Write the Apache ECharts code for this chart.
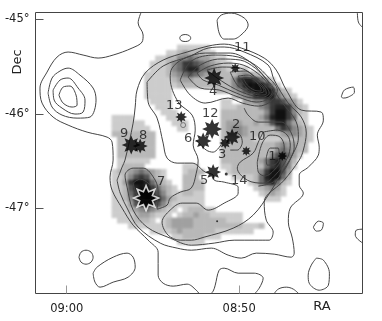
<!DOCTYPE html>
<html><head><meta charset="utf-8">
<style>html,body{margin:0;padding:0;background:#fff}#c{width:382px;height:321px}</style>
<script src="https://cdn.jsdelivr.net/npm/echarts@6/dist/echarts.min.js"></script>
</head><body><div id="c"></div>
<script>
// RA in minutes of time, Dec in degrees
const raTicks=[540,530], raTickLabels=['09:00','08:50'];
const decTicks=[-45,-46,-47], decTickLabels=['-45°','-46°','-47°'];

// open contours
const contourOuter=[[535.69,-44.928],[535.86,-45.039],[535.57,-45.166],[535.63,-45.240],[536.21,-45.304],[537.31,-45.378],[538.18,-45.410],[539.05,-45.378],[539.92,-45.346],[540.56,-45.399],[541.14,-45.558],[541.55,-45.727],[541.43,-45.886],[540.79,-46.034],[539.92,-46.119],[538.82,-46.193],[537.66,-46.246],[537.37,-46.299],[537.31,-46.489],[537.49,-46.669],[537.37,-46.807],[536.79,-46.997],[536.15,-47.177],[535.28,-47.336],[534.70,-47.463],[534.70,-47.706],[534.41,-47.791],[533.83,-47.822],[533.02,-47.801],[532.49,-47.865],[532.26,-47.918]];
const contourTopRight=[[523.15,-44.912],[523.09,-45.029],[522.74,-45.103]];
const contourRightEdge=[[522.74,-47.219],[523.21,-47.230],[523.27,-47.283],[522.74,-47.378]];
const contourBottomArch=[[528.03,-47.918],[527.74,-47.854],[527.27,-47.833],[526.86,-47.854],[526.46,-47.918]];
const contourBottomLobe=[[531.74,-47.918],[531.51,-47.875],[531.39,-47.812],[531.16,-47.653],[530.87,-47.632],[530.06,-47.685],[529.13,-47.685],[528.61,-47.738],[528.84,-47.844],[529.19,-47.918]];
const contourRidge=[[529.71,-45.939],[529.48,-46.013],[528.89,-46.087],[527.56,-46.087],[526.98,-46.203],[526.81,-46.352],[526.98,-46.457],[527.39,-46.595],[528.03,-46.722],[528.89,-46.764]];
const contourNear2=[[530.23,-46.193],[529.94,-46.225],[529.82,-46.299],[530.11,-46.383],[530.52,-46.383]];
const contourNear6=[[532.49,-46.278],[531.91,-46.383],[531.51,-46.405],[530.99,-46.309]];

// closed contours
const loopBottomLeft=[[538.47,-47.685],[538.24,-47.621],[537.31,-47.516],[536.50,-47.473],[536.15,-47.516],[536.03,-47.621],[536.44,-47.727],[537.31,-47.780],[538.07,-47.833],[538.36,-47.780]];
const loopSmallCircle=[[539.29,-47.516],[539.17,-47.463],[538.88,-47.442],[538.59,-47.463],[538.47,-47.516],[538.59,-47.568],[538.88,-47.590],[539.17,-47.568]];
const loopWest1=[[540.45,-45.801],[540.21,-45.717],[539.81,-45.706],[539.46,-45.801],[539.40,-45.907],[539.69,-45.928],[540.21,-45.886]];
const loopWest2=[[540.79,-45.748],[540.39,-45.643],[539.92,-45.621],[539.34,-45.727],[538.94,-45.854],[539.05,-45.981],[539.52,-46.002],[540.27,-45.939],[540.73,-45.854]];
const loopWest3=[[541.08,-45.780],[540.85,-45.621],[540.39,-45.547],[539.92,-45.516],[539.23,-45.590],[538.47,-45.727],[538.30,-45.854],[538.65,-46.034],[539.40,-46.045],[540.27,-46.013],[540.85,-45.928]];
const loopTopSmall=[[533.45,-45.198],[533.37,-45.172],[533.13,-45.161],[532.90,-45.172],[532.81,-45.198],[532.90,-45.225],[533.13,-45.235],[533.37,-45.225]];
const loopTop=[[531.28,-45.008],[531.04,-44.955],[530.46,-44.934],[529.71,-44.986],[529.48,-45.061],[529.77,-45.145],[530.35,-45.209],[530.87,-45.209],[531.16,-45.145]];
const loopEast=[[524.08,-45.822],[523.90,-45.748],[523.38,-45.717],[523.32,-45.770],[523.67,-45.822],[523.96,-45.833]];
const loopEastCircle=[[525.70,-47.198],[525.41,-47.135],[525.12,-47.156],[525.24,-47.230],[525.53,-47.240]];
const loopSouthEast=[[525.53,-47.526],[525.12,-47.547],[524.77,-47.685],[524.83,-47.812],[525.36,-47.865],[525.94,-47.791],[526.00,-47.706],[525.82,-47.600]];
const loopMain=[[537.08,-46.701],[536.79,-46.563],[536.62,-46.489],[536.15,-46.098],[536.03,-45.928],[535.92,-45.748],[535.45,-45.568],[534.41,-45.431],[533.02,-45.346],[531.80,-45.283],[530.87,-45.262],[529.88,-45.304],[528.55,-45.410],[527.85,-45.537],[527.27,-45.748],[526.40,-45.960],[525.24,-45.981],[525.12,-46.066],[525.47,-46.225],[525.36,-46.352],[525.41,-46.436],[525.99,-46.563],[526.52,-46.648],[526.52,-46.754],[526.28,-46.838],[527.04,-46.997],[527.15,-47.145],[526.92,-47.314],[526.81,-47.473],[526.98,-47.516],[527.97,-47.484],[529.01,-47.473],[529.88,-47.526],[530.64,-47.494],[531.62,-47.420],[532.78,-47.442],[533.60,-47.420],[534.58,-47.367],[535.86,-47.198],[536.44,-47.018],[536.90,-46.838]];
const loopSpiral=[[535.34,-45.664],[534.41,-45.494],[532.84,-45.389],[531.80,-45.304],[530.87,-45.293],[529.71,-45.346],[528.32,-45.484],[527.97,-45.642],[527.16,-45.886],[526.40,-46.034],[526.11,-46.203],[526.28,-46.383],[526.52,-46.489],[527.39,-46.701],[528.55,-46.934],[528.43,-47.124],[528.03,-47.251],[528.26,-47.336],[529.13,-47.336],[530.29,-47.336],[531.45,-47.367],[532.78,-47.389],[534.00,-47.314],[535.34,-47.198],[536.15,-47.018],[536.50,-46.775],[536.62,-46.648],[536.15,-46.574],[535.57,-46.574],[534.87,-46.701],[534.70,-46.838],[534.76,-47.008],[534.18,-46.965],[534.00,-46.891],[533.42,-46.828],[532.78,-46.785],[532.49,-46.627],[532.38,-46.489],[532.67,-46.330],[532.55,-46.172],[532.73,-46.013],[533.54,-45.875],[534.00,-45.621],[533.89,-45.516],[533.25,-45.420],[531.97,-45.357],[530.52,-45.357],[529.36,-45.452],[528.49,-45.621],[527.62,-45.854],[526.63,-46.119],[526.57,-46.256],[526.92,-46.436],[527.62,-46.648],[528.20,-46.828],[529.19,-47.071],[530.35,-47.209],[532.03,-47.304],[532.78,-47.336],[533.42,-47.336],[534.12,-47.283],[534.47,-47.145],[534.00,-47.018],[533.31,-46.944],[532.49,-46.944],[531.80,-47.018],[530.87,-46.944],[530.06,-46.838],[530.06,-46.775],[530.87,-46.722],[531.45,-46.701],[531.51,-46.648],[531.97,-46.616],[532.73,-46.521],[533.60,-46.521],[534.18,-46.468],[534.41,-46.309],[534.76,-46.045],[535.28,-45.875]];
const loopNear7=[[536.15,-46.733],[535.74,-46.690],[535.28,-46.733],[534.93,-46.828],[535.28,-46.912],[535.86,-46.880]];
const loopStar1A=[[528.61,-46.193],[527.79,-46.172],[527.21,-46.225],[527.04,-46.330],[527.21,-46.468],[527.91,-46.648],[528.61,-46.733],[529.53,-46.701],[530.11,-46.574],[529.94,-46.510],[529.19,-46.415],[528.89,-46.299]];
const loopStar1B=[[528.95,-46.510],[528.66,-46.309],[528.20,-46.225],[527.62,-46.246],[527.39,-46.352],[527.50,-46.468],[527.97,-46.595],[528.49,-46.658],[528.89,-46.616]];
const loopStar1C=[[528.43,-46.468],[528.20,-46.362],[527.74,-46.362],[527.68,-46.468],[528.03,-46.542],[528.37,-46.542]];
const loopPeak1=[[533.42,-45.643],[532.78,-45.442],[531.39,-45.378],[530.06,-45.399],[529.07,-45.484],[528.32,-45.611],[527.79,-45.748],[528.14,-45.865],[528.89,-45.918],[529.82,-45.886],[530.64,-45.833],[531.97,-45.886],[532.84,-45.801]];
const loopPeak2=[[532.96,-45.611],[532.26,-45.484],[531.10,-45.420],[529.94,-45.431],[529.07,-45.516],[528.37,-45.642],[527.97,-45.759],[528.32,-45.844],[529.01,-45.875],[530.06,-45.822],[531.16,-45.748],[532.26,-45.727]];
const loopPeak3=[[532.44,-45.568],[531.68,-45.494],[530.64,-45.463],[529.77,-45.484],[528.95,-45.568],[528.32,-45.685],[528.08,-45.770],[528.43,-45.833],[529.19,-45.833],[530.17,-45.780],[531.22,-45.695],[532.09,-45.642]];
const loopPeak4=[[531.86,-45.537],[530.99,-45.505],[529.94,-45.516],[529.13,-45.600],[528.43,-45.717],[528.26,-45.780],[528.61,-45.822],[529.36,-45.801],[530.23,-45.738],[531.28,-45.621]];
const loopPeak5=[[530.52,-45.558],[529.65,-45.547],[529.01,-45.632],[528.49,-45.738],[528.43,-45.791],[528.78,-45.801],[529.36,-45.770],[530.06,-45.706]];
const loopPeak6=[[530.06,-45.600],[529.48,-45.590],[528.89,-45.674],[528.55,-45.759],[528.89,-45.780],[529.48,-45.738]];
const loopPeak7=[[529.77,-45.621],[529.24,-45.632],[528.78,-45.717],[528.72,-45.759],[529.13,-45.748],[529.53,-45.695]];

// stars: RA, Dec, marker diameter, outline width
const starNames=['1','2','3','4','5','6','7','8','9','10','11','12','13'];
const starRA=[527.50,530.41,530.81,531.45,531.51,532.09,535.40,535.74,536.26,529.59,530.23,531.57,533.36];
const starDec=[-46.447,-46.246,-46.309,-45.621,-46.616,-46.288,-46.891,-46.341,-46.330,-46.394,-45.516,-46.161,-46.034];
const starSizes=[10,17,12,20,16,17,25,15,19,10,10,20,12];
const starOutlines=[0,0,0,0,0,0,1.6,0,0,0,0,0,0];
const dots=[[530.75,-46.637,3],[531.28,-47.135,2]];
const openCircle=[[533.25,-46.119]];

// labels
const labelTexts=['1','2','3','4','5','6','7','8','9','10','11','12','13','14'];
const labelRA=[528.08,530.17,530.99,531.51,532.03,532.96,534.53,535.57,536.67,528.95,529.82,531.68,533.77,530.00];
const labelDec=[-46.457,-46.119,-46.436,-45.770,-46.711,-46.267,-46.722,-46.225,-46.214,-46.246,-45.304,-46.002,-45.918,-46.711];

// gray map, one digit per map cell: [row, first column, levels]
const mapColumns=60, mapRows=52;
const grayCells=[
[6,26,"111111"],
[7,24,"112322211"],
[8,22,"1122445433211"],
[9,21,"111245776543211"],
[10,21,"1112457885543211"],[10,37,"11"],
[11,20,"111123456543322"],[11,35,"2234321"],
[12,20,"111112333222222"],[12,35,"247887531"],
[13,20,"111111222222222"],[13,35,"2468999741"],
[14,20,"11111"],[14,33,"22"],[14,35,"234689998421"],
[15,20,"11111"],[15,36,"234589985321"],
[16,21,"1111"],[16,34,"11"],[16,38,"33446776431"],
[17,22,"111"],[17,34,"1112222457887421"],
[18,23,"111"],[18,34,"2222222247997421"],
[19,14,"1111"],[19,24,"111"],[19,34,"2222222358997511"],
[20,14,"111111"],[20,25,"111"],[20,34,"2333223236885321"],
[21,14,"1111111"],[21,26,"11"],[21,34,"23443222225764321"],
[22,14,"22222222"],[22,34,"23343222222344321"],
[23,15,"2222222"],[23,34,"22222211111222221"],
[24,15,"2222222"],[24,34,"2222222222343322"],
[25,15,"2222222"],[25,34,"2222222222454322"],
[26,15,"2222222"],[26,34,"222222222467531"],
[27,15,"111111"],[27,34,"22222223578642"],
[28,15,"12222"],[28,27,"111"],[28,34,"11222222578641"],
[29,14,"1223454321"],[29,27,"1222"],[29,35,"122222479963"],
[30,14,"1124676321"],[30,27,"222"],[30,36,"11112589952"],
[31,14,"11379985321"],[31,27,"2222"],[31,39,"12578521"],
[32,14,"112689975321"],[32,27,"2222"],[32,40,"123431"],
[33,14,"1125799864211"],[33,27,"2211"],[33,41,"12321"],
[34,14,"112478998532111"],[34,29,"11"],[34,42,"111"],
[35,14,"11136888642111"],[35,28,"111"],
[36,14,"111234543211"],[36,27,"122211"],
[37,14,"11112332111"],[37,26,"12232211"],[37,34,"1111"],
[38,15,"1112221"],[38,23,"123333222222111"],
[39,17,"111111"],[39,23,"1233332222222221112"],
[40,21,"111"],[40,24,"1232222221111111"],
[41,25,"112222111"],
[42,26,"11111"]
];

const mapColumnNames=Array.from({length:mapColumns},(_,i)=>i);
const mapRowNames=Array.from({length:mapRows},(_,i)=>i);
const heatData=[];
grayCells.forEach(([r,c,s])=>{[...s].forEach((d,i)=>heatData.push([c+i,r,+d]));});

const closed=a=>a.concat([a[0]]);
const openLines=[contourOuter,contourTopRight,contourRightEdge,contourBottomArch,contourBottomLobe,contourRidge,contourNear2,contourNear6];
const closedLines=[loopBottomLeft,loopSmallCircle,loopWest1,loopWest2,loopWest3,loopTopSmall,loopTop,loopEast,loopEastCircle,loopSouthEast,loopMain,loopSpiral,loopNear7,loopStar1A,loopStar1B,loopStar1C,loopPeak1,loopPeak2,loopPeak3,loopPeak4,loopPeak5,loopPeak6,loopPeak7];
const lineSeries=openLines.concat(closedLines.map(closed)).map(d=>({
  type:'line',data:d,xAxisIndex:0,yAxisIndex:0,showSymbol:false,smooth:0.35,clip:true,silent:true,z:5,
  lineStyle:{color:'#444',width:1}
}));

// eight-pointed star outline
let star='M';
for(let i=0;i<16;i++){const r=i%2?0.55:1,t=Math.PI*i/8-Math.PI/2;star+=(i?'L':'')+(50+50*r*Math.cos(t)).toFixed(1)+' '+(50+50*r*Math.sin(t)).toFixed(1);}
star='path://'+star+'Z';

const chart=echarts.init(document.getElementById('c'),null,{renderer:'canvas'});
chart.setOption({
  animation:false,
  grid:{left:35.5,top:12.5,width:327,height:281,show:true,borderColor:'#444',borderWidth:1},
  xAxis:[
    {type:'value',min:522.85,max:541.81,inverse:true,splitLine:{show:false},axisLine:{show:false},
     axisTick:{show:true,inside:true,length:8,customValues:raTicks,lineStyle:{color:'#999'}},
     axisLabel:{show:true,customValues:raTicks,margin:10,fontFamily:'DejaVu Sans',fontSize:11.5,color:'#222',
       formatter:v=>raTickLabels[raTicks.indexOf(v)]}},
    {type:'category',data:mapColumnNames,show:false}
  ],
  yAxis:[
    {type:'value',min:-47.90,max:-44.928,splitLine:{show:false},axisLine:{show:false},
     axisTick:{show:true,inside:true,length:8,customValues:decTicks,lineStyle:{color:'#555'}},
     axisLabel:{show:true,customValues:decTicks,margin:6,fontFamily:'DejaVu Sans',fontSize:11.5,color:'#222',
       formatter:v=>decTickLabels[decTicks.indexOf(v)]}},
    {type:'category',data:mapRowNames,inverse:true,show:false}
  ],
  visualMap:{show:false,seriesIndex:0,min:1,max:9,inRange:{color:['#cccccc','#b8b8b8','#a0a0a0','#888888','#6c6c6c','#525252','#383838','#222222','#101010']}},
  series:[
    {type:'heatmap',zlevel:-1,data:heatData,xAxisIndex:1,yAxisIndex:1,silent:true,z:1,emphasis:{disabled:true},progressive:0},
    ...lineSeries,
    {type:'scatter',silent:true,z:8,symbol:star,
     data:starRA.map((r,i)=>({name:starNames[i],value:[r,starDec[i]],symbolSize:starSizes[i],
       itemStyle:{color:'#000',borderColor:'#fff',borderWidth:starOutlines[i]}}))},
    {type:'scatter',silent:true,z:8,symbol:'circle',
     data:dots.map(d=>({value:[d[0],d[1]],symbolSize:d[2]})),itemStyle:{color:'#111'}},
    {type:'scatter',silent:true,z:7,symbol:'circle',symbolSize:5,data:openCircle,
     itemStyle:{color:'rgba(255,255,255,0)',borderColor:'#666',borderWidth:1}},
    {type:'scatter',silent:true,z:9,symbolSize:0,
     data:labelRA.map((r,i)=>({value:[r,labelDec[i]],name:labelTexts[i]})),
     label:{show:true,position:'inside',formatter:p=>p.name,fontFamily:'DejaVu Sans',fontSize:13,color:'#111'}}
  ],
  graphic:[
    {type:'text',x:18,y:62,rotation:Math.PI/2,style:{text:'Dec',font:'13px "DejaVu Sans"',fill:'#222',textAlign:'center',textVerticalAlign:'middle'}},
    {type:'text',x:322,y:307,style:{text:'RA',font:'13px "DejaVu Sans"',fill:'#222',textAlign:'center',textVerticalAlign:'middle'}}
  ]
});
// soften only the gray map layer, which sits in its own canvas below the contours
const layer=document.querySelector('#c canvas[data-zr-dom-id="zr_-1"]')||document.querySelector('#c canvas');
layer.style.filter='blur(1.3px)';
</script></body></html>
